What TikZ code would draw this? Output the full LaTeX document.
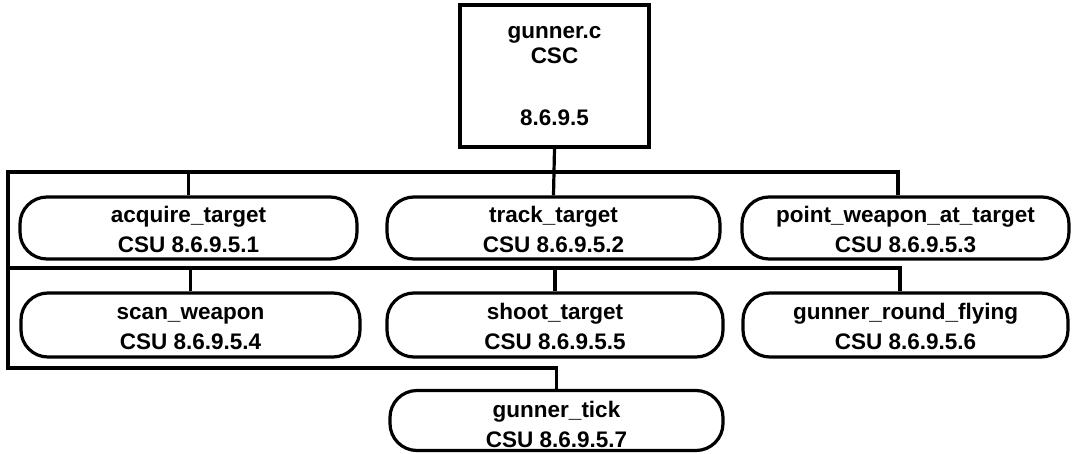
\documentclass[tikz,border=0pt]{standalone}
\usepackage{fontspec}
\setmainfont{Liberation Sans}
\newcommand{\csutext}[3][20pt]{\rule{0pt}{#1}#2\\#3}
\begin{document}
\begin{tikzpicture}[x=1pt,y=-1pt,
  every node/.style={font=\bfseries\fontsize{22.5}{30}\selectfont, align=center, inner sep=0pt},
  csu/.style={draw, line width=3.2pt, rounded corners=27pt, minimum height=62pt},
  csc/.style={draw, line width=3.2pt, minimum width=189pt, minimum height=142pt},
  wire/.style={line width=3.2pt, line join=miter}]
\useasboundingbox (0,0) rectangle (1072,453);
\fill[white] (0,0) rectangle (1072,453);
% top CSC
\node[csc, font=\bfseries\fontsize{22.5}{25}\selectfont] (top) at (554.5,76) {gunner.c\\CSC\\[37pt]8.6.9.5};
% row 1
\node[csu, minimum width=337pt] (b1) at (188.5,228) {\csutext{acquire\_target}{CSU 8.6.9.5.1}};
\node[csu, minimum width=333pt] (b2) at (553.5,228) {\csutext{track\_target}{CSU 8.6.9.5.2}};
\node[csu, minimum width=327pt] (b3) at (905.5,228) {\csutext{point\_weapon\_at\_target}{CSU 8.6.9.5.3}};
% row 2
\node[csu, minimum width=339pt, minimum height=64pt] (b4) at (190.5,325) {\csutext{scan\_weapon}{CSU 8.6.9.5.4}};
\node[csu, minimum width=336pt, minimum height=64pt] (b5) at (555,325) {\csutext{shoot\_target}{CSU 8.6.9.5.5}};
\node[csu, minimum width=325pt, minimum height=64pt] (b6) at (905.5,325) {\csutext{gunner\_round\_flying}{CSU 8.6.9.5.6}};
% row 3
\node[csu, minimum width=333pt, minimum height=60pt] (b7) at (556.5,420.5) {\csutext[24pt]{gunner\_tick}{CSU 8.6.9.5.7}};
% connectors
\coordinate (l1) at (8,172);
\coordinate (r1) at (898,172);
\coordinate (l2) at (8,268);
\coordinate (r2) at (900,268);
\coordinate (l3) at (8,368);
\draw[wire] (top.south) -- (b2.north);
\draw[wire] (r1 |- b3.north) -- (r1) -- (l1) -- (l3) -| (b7.north);
\draw[wire] (l1 -| b1.north) -- (b1.north);
\draw[wire] (l2) -- (r2) -- (r2 |- b6.north);
\draw[wire] (l2 -| b4.north) -- (b4.north);
\draw[wire] (l2 -| b5.north) -- (b5.north);
\end{tikzpicture}
\end{document}
